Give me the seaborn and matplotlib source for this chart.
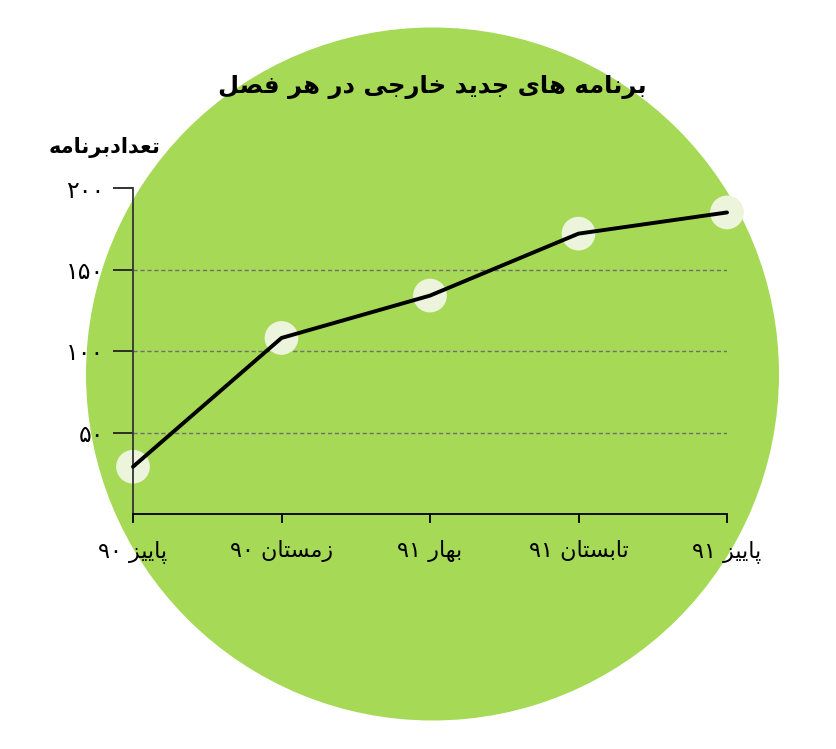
import numpy as np
import pandas as pd
import matplotlib
matplotlib.use("Agg")
import matplotlib.pyplot as plt
import seaborn as sns
from matplotlib.patches import Circle

# ---------------- data ----------------
seasons = ["پاییز ۹۰", "زمستان ۹۰", "بهار ۹۱", "تابستان ۹۱", "پاییز ۹۱"]
programs = [29, 108, 134, 172, 185]
y_ticks = [50, 100, 150, 200]
y_tick_labels = ["۵۰", "۱۰۰", "۱۵۰", "۲۰۰"]
title_text = "برنامه های جدید خارجی در هر فصل"
y_title_text = "تعدادبرنامه"

# ------------- simple Persian shaping (presentation forms) -------------
FORMS = {
    "ا": ("\uFE8D", "\uFE8E"),
    "د": ("\uFEA9", "\uFEAA"),
    "ر": ("\uFEAD", "\uFEAE"),
    "ز": ("\uFEAF", "\uFEB0"),
    "ب": ("\uFE8F", "\uFE90", "\uFE91", "\uFE92"),
    "پ": ("\uFB56", "\uFB57", "\uFB58", "\uFB59"),
    "ت": ("\uFE95", "\uFE96", "\uFE97", "\uFE98"),
    "ج": ("\uFE9D", "\uFE9E", "\uFE9F", "\uFEA0"),
    "خ": ("\uFEA5", "\uFEA6", "\uFEA7", "\uFEA8"),
    "س": ("\uFEB1", "\uFEB2", "\uFEB3", "\uFEB4"),
    "ص": ("\uFEB9", "\uFEBA", "\uFEBB", "\uFEBC"),
    "ع": ("\uFEC9", "\uFECA", "\uFECB", "\uFECC"),
    "ف": ("\uFED1", "\uFED2", "\uFED3", "\uFED4"),
    "ل": ("\uFEDD", "\uFEDE", "\uFEDF", "\uFEE0"),
    "م": ("\uFEE1", "\uFEE2", "\uFEE3", "\uFEE4"),
    "ن": ("\uFEE5", "\uFEE6", "\uFEE7", "\uFEE8"),
    "ه": ("\uFEE9", "\uFEEA", "\uFEEB", "\uFEEC"),
    "ی": ("\uFEEF", "\uFEF0", "\uFEF3", "\uFEF4"),
}
RIGHT_ONLY = set("ادرز")


def shape_word(w):
    chars = list(w)
    out = []
    for i, c in enumerate(chars):
        if c not in FORMS:
            out.append(c)
            continue
        prev = chars[i - 1] if i > 0 else None
        nxt = chars[i + 1] if i + 1 < len(chars) else None
        jp = prev in FORMS and prev not in RIGHT_ONLY
        jn = nxt in FORMS and c not in RIGHT_ONLY
        f = FORMS[c]
        if jp and jn:
            out.append(f[3])
        elif jp:
            out.append(f[1])
        elif jn:
            out.append(f[2])
        else:
            out.append(f[0])
    return "".join(reversed(out))


def rtl(s):
    words = s.split(" ")
    vis = [shape_word(w) if any(ch in FORMS for ch in w) else w for w in words]
    return " ".join(reversed(vis))


# ---------------- figure ----------------
sns.set_theme(style="white")
plt.rcParams["font.family"] = ["DejaVu Sans"]

W, H = 836, 749
fig = plt.figure(figsize=(W / 100, H / 100), dpi=100)
fig.patch.set_facecolor("white")

# background green disc
bg = fig.add_axes([0, 0, 1, 1])
bg.set_xlim(0, W)
bg.set_ylim(H, 0)
bg.axis("off")
bg.add_patch(Circle((432.5, 374), 346.5, color="#A6D955", lw=0))

ax = fig.add_axes([133 / W, 235 / H, 594 / W, 326 / H])
ax.set_facecolor("none")

df = pd.DataFrame({"pos": np.arange(len(seasons)), "programs": programs,
                   "season": [rtl(s) for s in seasons]})

for v in y_ticks[:-1]:
    ax.axhline(v, color="#6f6f6f", lw=1.0, ls=(0, (3, 2)), zorder=1)

sns.scatterplot(data=df, x="pos", y="programs", ax=ax, s=590, color="#ECF4DC",
                edgecolor="none", zorder=2, clip_on=False, legend=False)
sns.lineplot(data=df, x="pos", y="programs", ax=ax, color="black", lw=2.8,
             zorder=3, clip_on=False, legend=False)

ax.set_xlim(0, len(seasons) - 1)
ax.set_ylim(0, 200)
ax.set_xticks(df["pos"])
ax.set_xticklabels(df["season"], fontsize=16, color="black")
ax.set_yticks(y_ticks)
ax.set_yticklabels(y_tick_labels, fontsize=17, color="black")
ax.set_xlabel("")
ax.set_ylabel("")

for s in ["top", "right"]:
    ax.spines[s].set_visible(False)
ax.spines["left"].set_color("#333333")
ax.spines["left"].set_linewidth(1.3)
ax.spines["bottom"].set_color("black")
ax.spines["bottom"].set_linewidth(1.3)

ax.tick_params(axis="y", length=14.5, width=1.3, color="#222222", pad=6,
               left=True, direction="out")
ax.tick_params(axis="x", length=6.5, width=1.3, color="black", pad=12,
               bottom=True, direction="out")

fig.text(432 / W, 1 - 87 / H, rtl(title_text), ha="center", va="center",
         fontsize=17.5, fontweight="bold", color="black")
fig.text(105 / W, 1 - 147 / H, rtl(y_title_text), ha="center", va="center",
         fontsize=15, fontweight="bold", color="black")

fig.savefig("out.png", dpi=100, facecolor="white")
